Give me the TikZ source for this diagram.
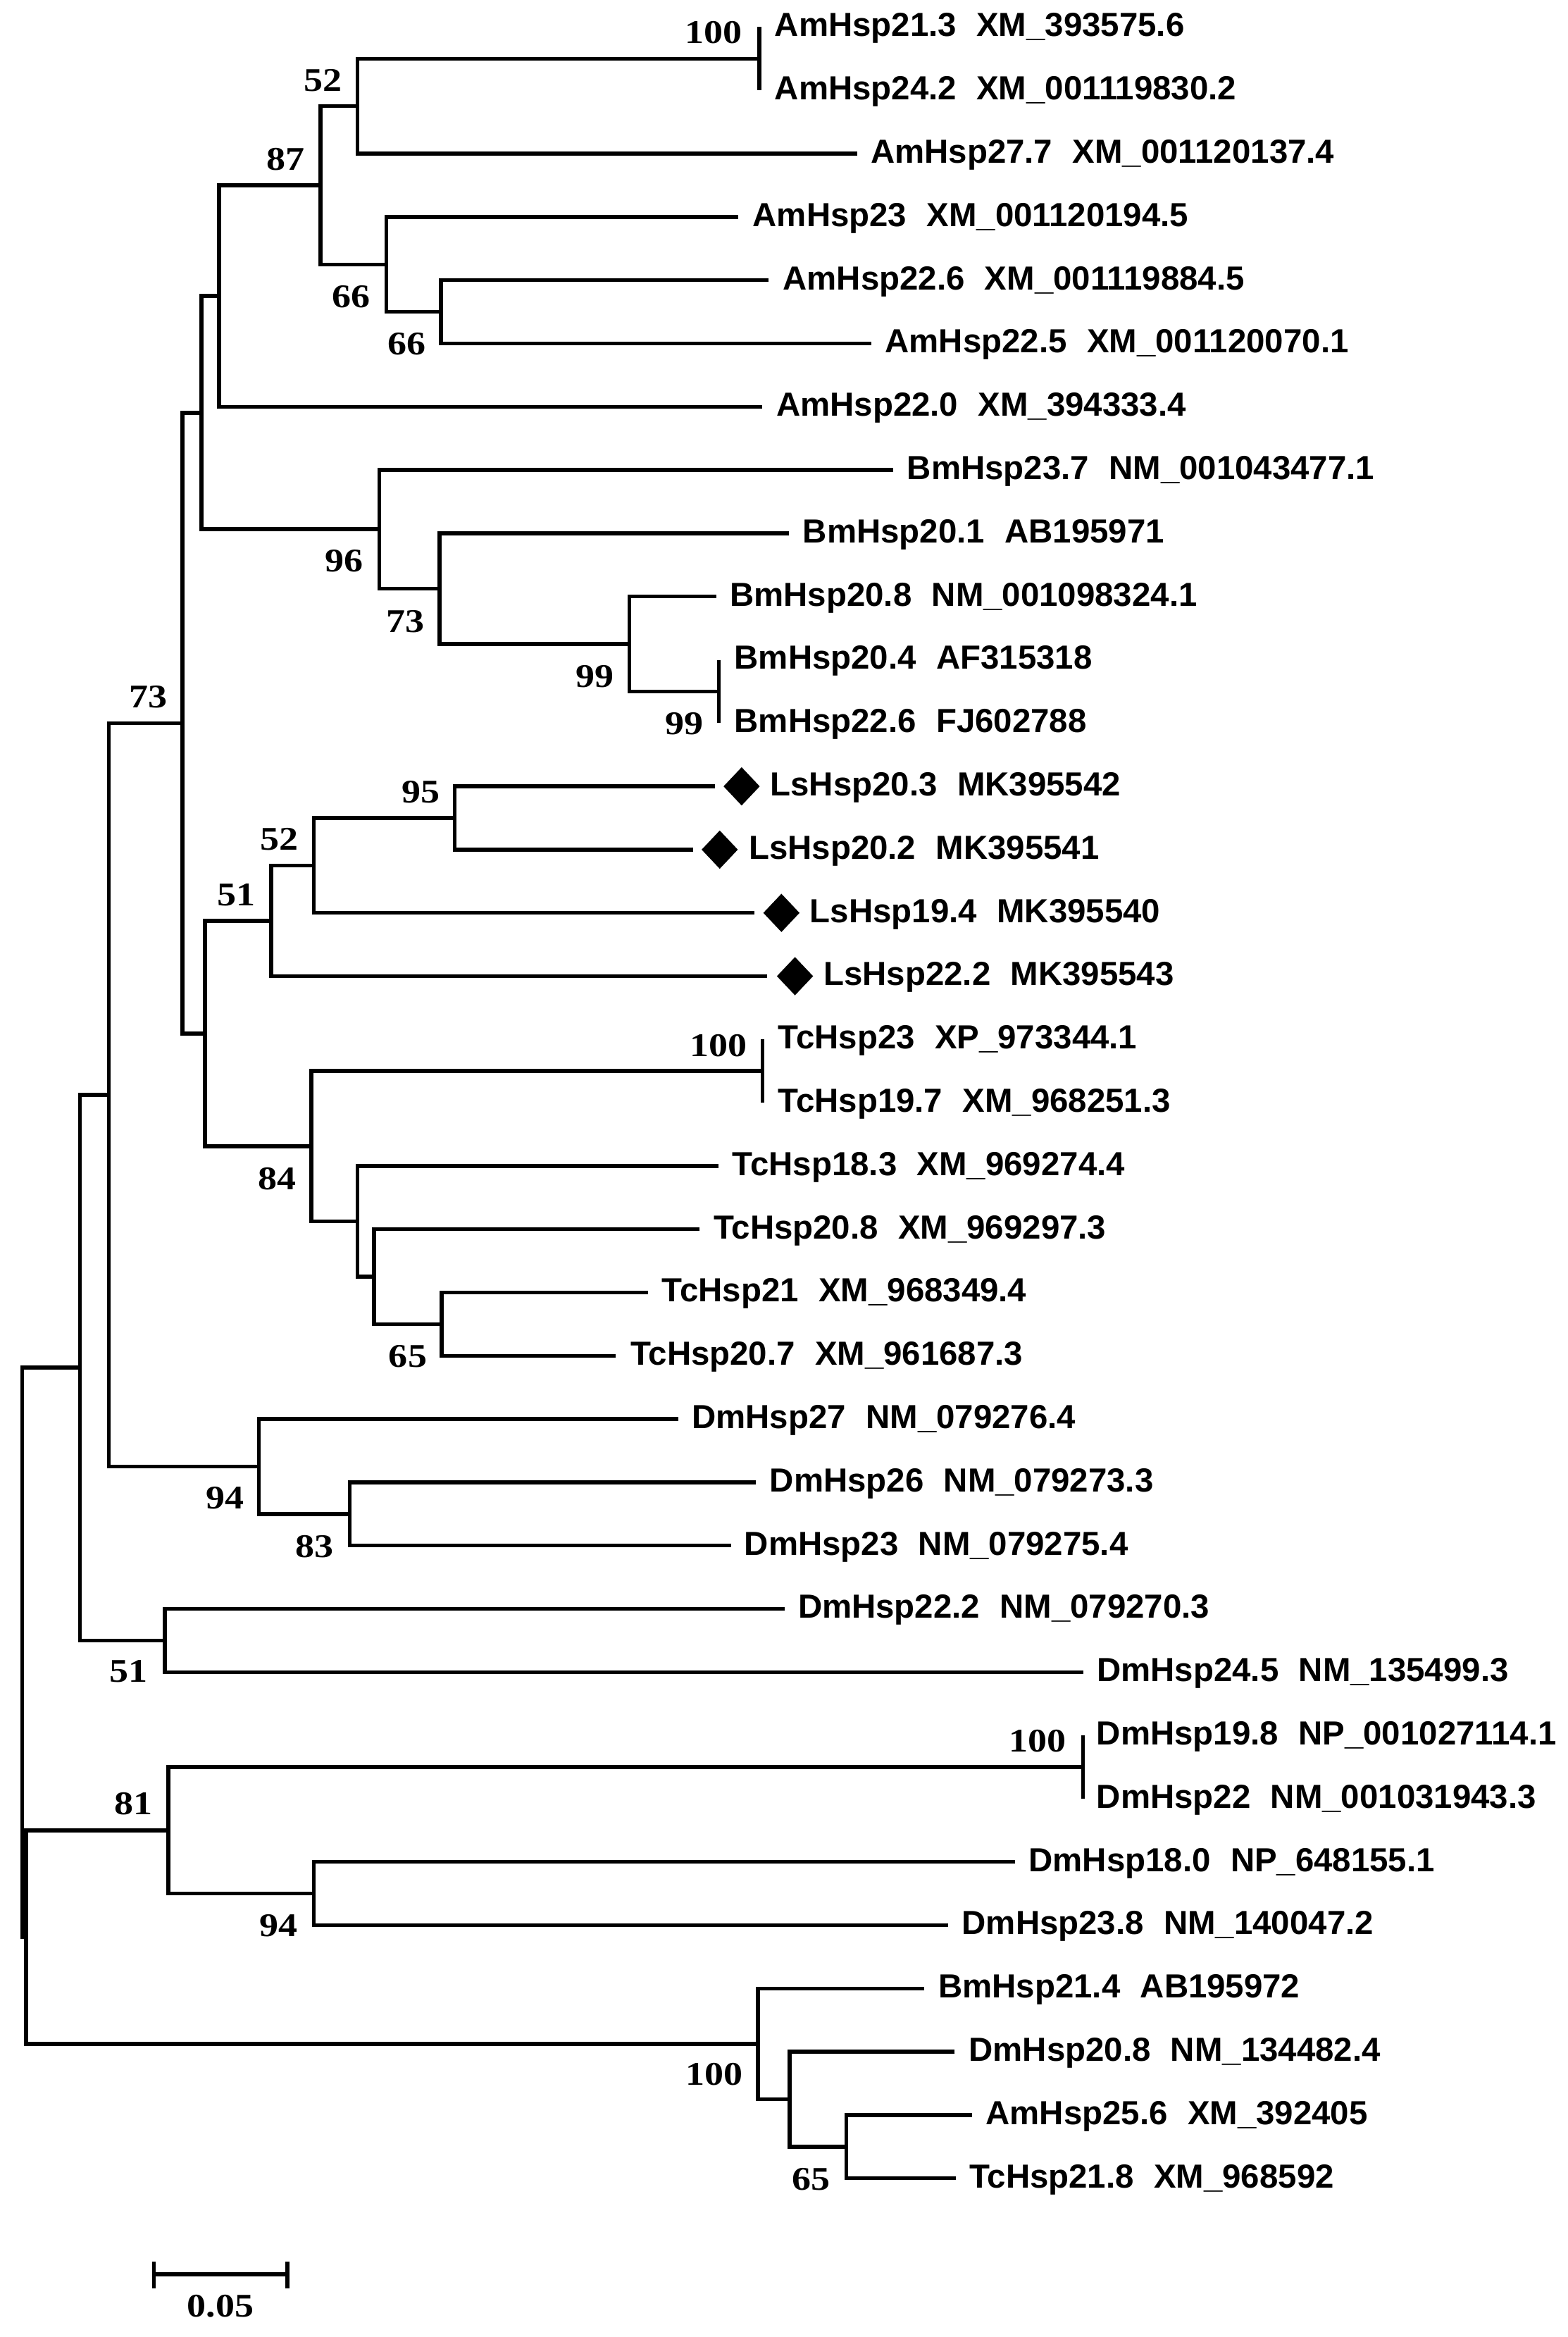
\documentclass[tikz,border=0pt]{standalone}
\usepackage{fontspec}
\usetikzlibrary{shapes.geometric}
\newfontfamily\lbfont{Liberation Sans}
\newfontfamily\bsfont{Liberation Serif}[FakeStretch=1.15]
\newcommand{\gapsp}{\hspace{0.6em}}
\begin{document}
\begin{tikzpicture}[x=0.5pt,y=-0.5pt,
  br/.style={line width=1.3pt, black},
  leaf/.style={anchor=base west, inner sep=0pt, font=\lbfont\bfseries\fontsize{11.2}{13}\selectfont},
  boot/.style={inner sep=0pt, font=\bsfont\bfseries\fontsize{11.1}{13}\selectfont},
  lsmark/.style={diamond, fill=black, draw=none, inner sep=0pt, minimum width=12.3pt, minimum height=13pt}]
\useasboundingbox (0,0) rectangle (1052,1568);
\fill[white] (0,0) rectangle (1052,1568);

% ---- leaf tips ----
\coordinate (t1) at (509.5,18.2);
\coordinate (t2) at (509.5,60.65);
\coordinate (t3) at (575.3,103.1);
\coordinate (t4) at (495.5,145.55);
\coordinate (t5) at (515.8,188.0);
\coordinate (t6) at (584.6,230.45);
\coordinate (t7) at (511.4,272.9);
\coordinate (t8) at (599.5,315.35);
\coordinate (t9) at (529.5,357.8);
\coordinate (t10) at (480.6,400.25);
\coordinate (t11) at (482.5,442.7);
\coordinate (t12) at (482.5,485.15);
\coordinate (t13) at (479.6,527.6);
\coordinate (t14) at (465.1,570.05);
\coordinate (t15) at (506.1,612.5);
\coordinate (t16) at (515.0,654.95);
\coordinate (t17) at (511.7,697.4);
\coordinate (t18) at (511.7,739.85);
\coordinate (t19) at (482.4,782.3);
\coordinate (t20) at (469.6,824.75);
\coordinate (t21) at (435.0,867.2);
\coordinate (t22) at (413.2,909.65);
\coordinate (t23) at (455.3,952.1);
\coordinate (t24) at (507.2,994.55);
\coordinate (t25) at (490.5,1037.0);
\coordinate (t26) at (526.4,1079.45);
\coordinate (t27) at (727.0,1121.9);
\coordinate (t28) at (726.8,1164.35);
\coordinate (t29) at (726.8,1206.8);
\coordinate (t30) at (681.4,1249.25);
\coordinate (t31) at (636.3,1291.7);
\coordinate (t32) at (620.4,1334.15);
\coordinate (t33) at (640.7,1376.6);
\coordinate (t34) at (652.5,1419.05);
\coordinate (t35) at (641.5,1461.5);

% ---- internal nodes ----
\coordinate (nA) at (509.5,39.4);
\coordinate (nB) at (239.8,71.25);
\coordinate (nF) at (295.8,209.2);
\coordinate (nE) at (259.3,177.4);
\coordinate (nC) at (215.0,124.3);
\coordinate (nD) at (146.9,198.6);
\coordinate (nBc) at (482.5,463.9);
\coordinate (n99) at (422.3,432.1);
\coordinate (n73b) at (295.0,394.9);
\coordinate (n96) at (254.5,355.1);
\coordinate (nG) at (135.2,276.9);
\coordinate (n95) at (305.2,548.8);
\coordinate (nU) at (210.6,580.7);
\coordinate (nV) at (182.1,617.8);
\coordinate (nTc) at (511.7,718.6);
\coordinate (nZ) at (296.5,888.4);
\coordinate (nY) at (250.9,856.6);
\coordinate (nX) at (239.8,819.4);
\coordinate (nW) at (209.0,769.0);
\coordinate (nJ) at (137.5,693.4);
\coordinate (nH) at (122.4,485.2);
\coordinate (nM) at (234.8,1015.8);
\coordinate (nL) at (173.7,983.9);
\coordinate (nI) at (73.1,734.6);
\coordinate (nN) at (110.7,1100.7);
\coordinate (nK) at (53.7,917.6);
\coordinate (nDc) at (726.8,1185.6);
\coordinate (nO2) at (210.6,1270.5);
\coordinate (nO) at (113.0,1228.0);
\coordinate (nS) at (567.9,1440.3);
\coordinate (nQ) at (529.9,1408.4);
\coordinate (nP) at (508.6,1371.3);
\coordinate (nR2) at (17.6,1299.6);
\coordinate (nR1) at (15.0,917.6);

% ---- branches ----
\draw[br] (t1) -- (t2);
\draw[br] (nA) -| (nB) |- (t3);
\draw[br] (t5) -| (nF) |- (t6);
\draw[br] (t4) -| (nE) |- (nF);
\draw[br] (nB) -| (nC) |- (nE);
\draw[br] (nC) -| (nD) |- (t7);
\draw[br] (t11) -- (t12);
\draw[br] (t10) -| (n99) |- (nBc);
\draw[br] (t9) -| (n73b) |- (n99);
\draw[br] (t8) -| (n96) |- (n73b);
\draw[br] (nD) -| (nG) |- (n96);
\draw[br] (t13) -| (n95) |- (t14);
\draw[br] (n95) -| (nU) |- (t15);
\draw[br] (nU) -| (nV) |- (t16);
\draw[br] (t17) -- (t18);
\draw[br] (t21) -| (nZ) |- (t22);
\draw[br] (t20) -| (nY) |- (nZ);
\draw[br] (t19) -| (nX) |- (nY);
\draw[br] (nTc) -| (nW) |- (nX);
\draw[br] (nV) -| (nJ) |- (nW);
\draw[br] (nG) -| (nH) |- (nJ);
\draw[br] (t24) -| (nM) |- (t25);
\draw[br] (t23) -| (nL) |- (nM);
\draw[br] (nH) -| (nI) |- (nL);
\draw[br] (t26) -| (nN) |- (t27);
\draw[br] (nI) -| (nK) |- (nN);
\draw[br] (t28) -- (t29);
\draw[br] (t30) -| (nO2) |- (t31);
\draw[br] (nDc) -| (nO) |- (nO2);
\draw[br] (t34) -| (nS) |- (t35);
\draw[br] (t33) -| (nQ) |- (nS);
\draw[br] (t32) -| (nP) |- (nQ);
\draw[br] (nO) -| (nR2) |- (nP);
\draw[br] (nK) -| (nR1) |- (nR2);

% ---- Ls markers ----
\node[lsmark] (d13) at (497.7,527.6) {};
\node[lsmark] (d14) at (483.0,570.05) {};
\node[lsmark] (d15) at (524.4,612.5) {};
\node[lsmark] (d16) at (533.5,654.95) {};

% ---- leaf labels ----
\node[leaf] (L1) at (519.5,24.5) {AmHsp21.3\gapsp XM\_393575.6};
\node[leaf] (L2) at (519.5,66.95) {AmHsp24.2\gapsp XM\_001119830.2};
\node[leaf] (L3) at (584.0,109.4) {AmHsp27.7\gapsp XM\_001120137.4};
\node[leaf] (L4) at (504.8,151.85) {AmHsp23\gapsp XM\_001120194.5};
\node[leaf] (L5) at (525.0,194.3) {AmHsp22.6\gapsp XM\_001119884.5};
\node[leaf] (L6) at (593.6,236.75) {AmHsp22.5\gapsp XM\_001120070.1};
\node[leaf] (L7) at (520.6,279.2) {AmHsp22.0\gapsp XM\_394333.4};
\node[leaf] (L8) at (608.4,321.65) {BmHsp23.7\gapsp NM\_001043477.1};
\node[leaf] (L9) at (538.4,364.1) {BmHsp20.1\gapsp AB195971};
\node[leaf] (L10) at (489.5,406.55) {BmHsp20.8\gapsp NM\_001098324.1};
\node[leaf] (L11) at (492.5,449.0) {BmHsp20.4\gapsp AF315318};
\node[leaf] (L12) at (492.5,491.45) {BmHsp22.6\gapsp FJ602788};
\node[leaf] (L13) at (516.6,533.9) {LsHsp20.3\gapsp MK395542};
\node[leaf] (L14) at (502.2,576.35) {LsHsp20.2\gapsp MK395541};
\node[leaf] (L15) at (543.2,618.8) {LsHsp19.4\gapsp MK395540};
\node[leaf] (L16) at (552.4,661.25) {LsHsp22.2\gapsp MK395543};
\node[leaf] (L17) at (521.8,703.7) {TcHsp23\gapsp XP\_973344.1};
\node[leaf] (L18) at (521.8,746.15) {TcHsp19.7\gapsp XM\_968251.3};
\node[leaf] (L19) at (491.2,788.6) {TcHsp18.3\gapsp XM\_969274.4};
\node[leaf] (L20) at (478.6,831.05) {TcHsp20.8\gapsp XM\_969297.3};
\node[leaf] (L21) at (443.9,873.5) {TcHsp21\gapsp XM\_968349.4};
\node[leaf] (L22) at (422.8,915.95) {TcHsp20.7\gapsp XM\_961687.3};
\node[leaf] (L23) at (464.0,958.4) {DmHsp27\gapsp NM\_079276.4};
\node[leaf] (L24) at (516.2,1000.85) {DmHsp26\gapsp NM\_079273.3};
\node[leaf] (L25) at (499.2,1043.3) {DmHsp23\gapsp NM\_079275.4};
\node[leaf] (L26) at (535.2,1085.75) {DmHsp22.2\gapsp NM\_079270.3};
\node[leaf] (L27) at (735.8,1128.2) {DmHsp24.5\gapsp NM\_135499.3};
\node[leaf] (L28) at (735.6,1170.65) {DmHsp19.8\gapsp NP\_001027114.1};
\node[leaf] (L29) at (735.6,1213.1) {DmHsp22\gapsp NM\_001031943.3};
\node[leaf] (L30) at (690.0,1255.55) {DmHsp18.0\gapsp NP\_648155.1};
\node[leaf] (L31) at (645.2,1298.0) {DmHsp23.8\gapsp NM\_140047.2};
\node[leaf] (L32) at (629.4,1340.45) {BmHsp21.4\gapsp AB195972};
\node[leaf] (L33) at (649.8,1382.9) {DmHsp20.8\gapsp NM\_134482.4};
\node[leaf] (L34) at (661.2,1425.35) {AmHsp25.6\gapsp XM\_392405};
\node[leaf] (L35) at (650.2,1467.8) {TcHsp21.8\gapsp XM\_968592};

% ---- bootstrap values ----
\node[boot] (b1) at (479.0,22.0) {100};
\node[boot] (b2) at (216.7,53.8) {52};
\node[boot] (b3) at (191.5,106.9) {87};
\node[boot] (b4) at (235.6,199.2) {66};
\node[boot] (b5) at (273.0,230.8) {66};
\node[boot] (b6) at (230.8,376.6) {96};
\node[boot] (b7) at (272.2,416.9) {73};
\node[boot] (b8) at (399.2,454.0) {99};
\node[boot] (b9) at (459.3,485.5) {99};
\node[boot] (b10) at (99.4,467.7) {73};
\node[boot] (b11) at (282.3,531.4) {95};
\node[boot] (b12) at (187.3,563.3) {52};
\node[boot] (b13) at (158.5,600.4) {51};
\node[boot] (b14) at (482.0,701.6) {100};
\node[boot] (b15) at (185.8,791.0) {84};
\node[boot] (b16) at (273.7,910.0) {65};
\node[boot] (b17) at (150.9,1005.2) {94};
\node[boot] (b18) at (211.0,1037.6) {83};
\node[boot] (b19) at (86.4,1121.4) {51};
\node[boot] (b20) at (696.2,1167.9) {100};
\node[boot] (b21) at (89.4,1210.3) {81};
\node[boot] (b22) at (186.8,1292.0) {94};
\node[boot] (b23) at (479.1,1391.8) {100};
\node[boot] (b24) at (544.3,1462.0) {65};

% ---- scale bar ----
\coordinate (s1) at (103.3,1525.8);
\coordinate (s2) at (192.9,1525.8);
\coordinate (s1a) at (103.3,1517.6);
\coordinate (s1b) at (103.3,1535.4);
\coordinate (s2a) at (192.9,1517.6);
\coordinate (s2b) at (192.9,1535.4);
\draw[br] (s1) -- (s2);
\draw[br] (s1a) -- (s1b);
\draw[br] (s2a) -- (s2b);
\node[boot] (scl) at (147.9,1547.3) {0.05};
\end{tikzpicture}
\end{document}
